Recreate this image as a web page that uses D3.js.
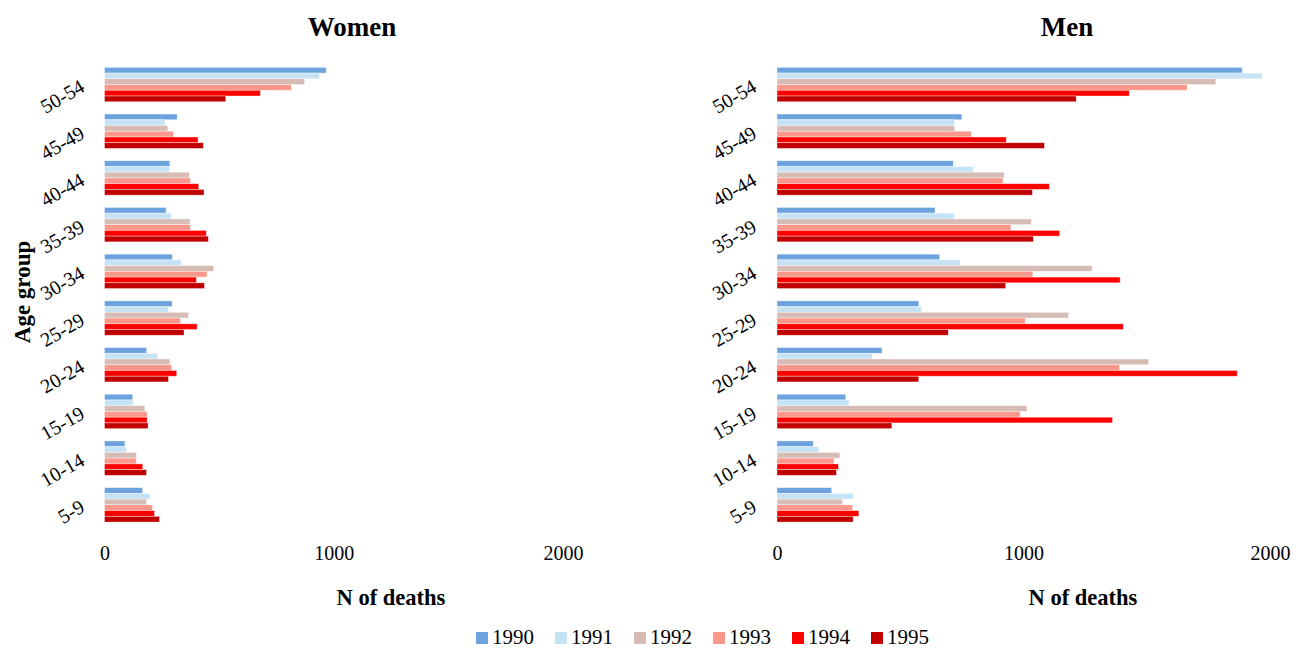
<!DOCTYPE html>
<html>
<head>
<meta charset="utf-8">
<script src="https://cdn.jsdelivr.net/npm/d3@7"></script>
<style>
  html, body { margin: 0; padding: 0; background: #fff; }
  svg { display: block; font-family: "Liberation Serif", "Times New Roman", serif; }
</style>
</head>
<body>
<svg id="chart" width="1302" height="649"></svg>
<script>
// Age groups, top to bottom
const ageGroups = ["50-54", "45-49", "40-44", "35-39", "30-34", "25-29", "20-24", "15-19", "10-14", "5-9"];
const years = ["1990", "1991", "1992", "1993", "1994", "1995"];
const yearColors = ["#6CA3DE", "#C5E3F4", "#D6BCB5", "#F9978B", "#FF0000", "#C00000"];
const xTicks = [0, 1000, 2000];

// Number of deaths per age group (rows follow ageGroups), one column per year
const women = [
  [967, 938, 873, 815, 680, 529],
  [317, 264, 276, 301, 408, 431],
  [285, 283, 370, 375, 411, 434],
  [269, 292, 373, 375, 444, 453],
  [296, 334, 476, 447, 401, 436],
  [295, 279, 367, 331, 404, 347],
  [184, 231, 286, 293, 315, 279],
  [123, 125, 176, 186, 186, 190],
  [89, 96, 139, 138, 167, 183],
  [166, 198, 183, 209, 218, 240]
];
const men = [
  [1887, 1968, 1780, 1664, 1429, 1214],
  [750, 720, 721, 788, 930, 1085],
  [715, 796, 922, 917, 1105, 1036],
  [641, 720, 1032, 949, 1147, 1040],
  [660, 742, 1278, 1038, 1392, 928],
  [575, 586, 1183, 1007, 1405, 695],
  [426, 386, 1508, 1389, 1867, 575],
  [279, 292, 1014, 986, 1361, 466],
  [147, 169, 255, 231, 249, 241],
  [222, 309, 266, 307, 332, 309]
];

const svg = d3.select("#chart");

const y = d3.scaleBand().domain(ageGroups).range([61.2, 528.2]).paddingInner(0.263).paddingOuter(0.1315);
const ySub = d3.scaleBand().domain(years).range([0, y.bandwidth()]);
const color = d3.scaleOrdinal().domain(years).range(yearColors);

function panel(data, title, x0, x1, labelX, titleX, axisTitleX) {
  const x = d3.scaleLinear().domain([0, 2000]).range([x0, x1]);
  const g = svg.append("g");

  // Bars
  ageGroups.forEach((age, i) => {
    const row = g.append("g").attr("transform", `translate(0,${y(age)})`);
    row.selectAll("rect")
      .data(years.map((yr, j) => ({ yr, v: data[i][j] })))
      .join("rect")
      .attr("x", x(0))
      .attr("y", d => ySub(d.yr))
      .attr("width", d => x(d.v) - x(0))
      .attr("height", ySub.bandwidth())
      .attr("fill", d => color(d.yr))
      .attr("stroke", "#fff")
      .attr("stroke-opacity", 0.55)
      .attr("stroke-width", 0.7);
  });

  // Category labels (slanted)
  g.selectAll("text.cat")
    .data(ageGroups)
    .join("text")
    .attr("class", "cat")
    .attr("text-anchor", "end")
    .attr("font-size", 20)
    .attr("fill", "#000")
    .attr("transform", d => `translate(${labelX},${y(d) + y.bandwidth() / 2 + 6}) rotate(-30)`)
    .text(d => d);

  // Value axis tick labels (no axis line)
  const axis = d3.axisBottom(x).tickValues(xTicks).tickFormat(d3.format("d")).tickSize(0).tickPadding(0);
  const ag = g.append("g").attr("transform", "translate(0,560)").call(axis);
  ag.select(".domain").remove();
  ag.selectAll("text").attr("font-size", 20).attr("font-family", "Liberation Serif, serif").attr("fill", "#000").attr("dy", 0);

  // Panel title
  g.append("text")
    .attr("x", titleX).attr("y", 36)
    .attr("text-anchor", "middle")
    .attr("font-size", 27).attr("font-weight", "bold")
    .text(title);

  // Axis title
  g.append("text")
    .attr("x", axisTitleX).attr("y", 605)
    .attr("text-anchor", "middle")
    .attr("font-size", 22.5).attr("font-weight", "bold")
    .text("N of deaths");
}

panel(women, "Women", 104.5, 563, 86, 352, 391);
panel(men, "Men", 777, 1270, 758, 1067, 1083);

// Vertical axis title
svg.append("text")
  .attr("transform", "translate(30,292) rotate(-90)")
  .attr("text-anchor", "middle")
  .attr("font-size", 23).attr("font-weight", "bold")
  .text("Age group");

// Legend
const legend = svg.append("g").attr("transform", "translate(476,632)");
let lx = 0;
years.forEach(yr => {
  const item = legend.append("g").attr("transform", `translate(${lx},0)`);
  item.append("rect").attr("width", 12).attr("height", 12).attr("fill", color(yr));
  const t = item.append("text").attr("x", 16).attr("y", 11.5).attr("font-size", 21).text(yr);
  lx += 16 + t.node().getComputedTextLength() + 21;
});
</script>
</body>
</html>
